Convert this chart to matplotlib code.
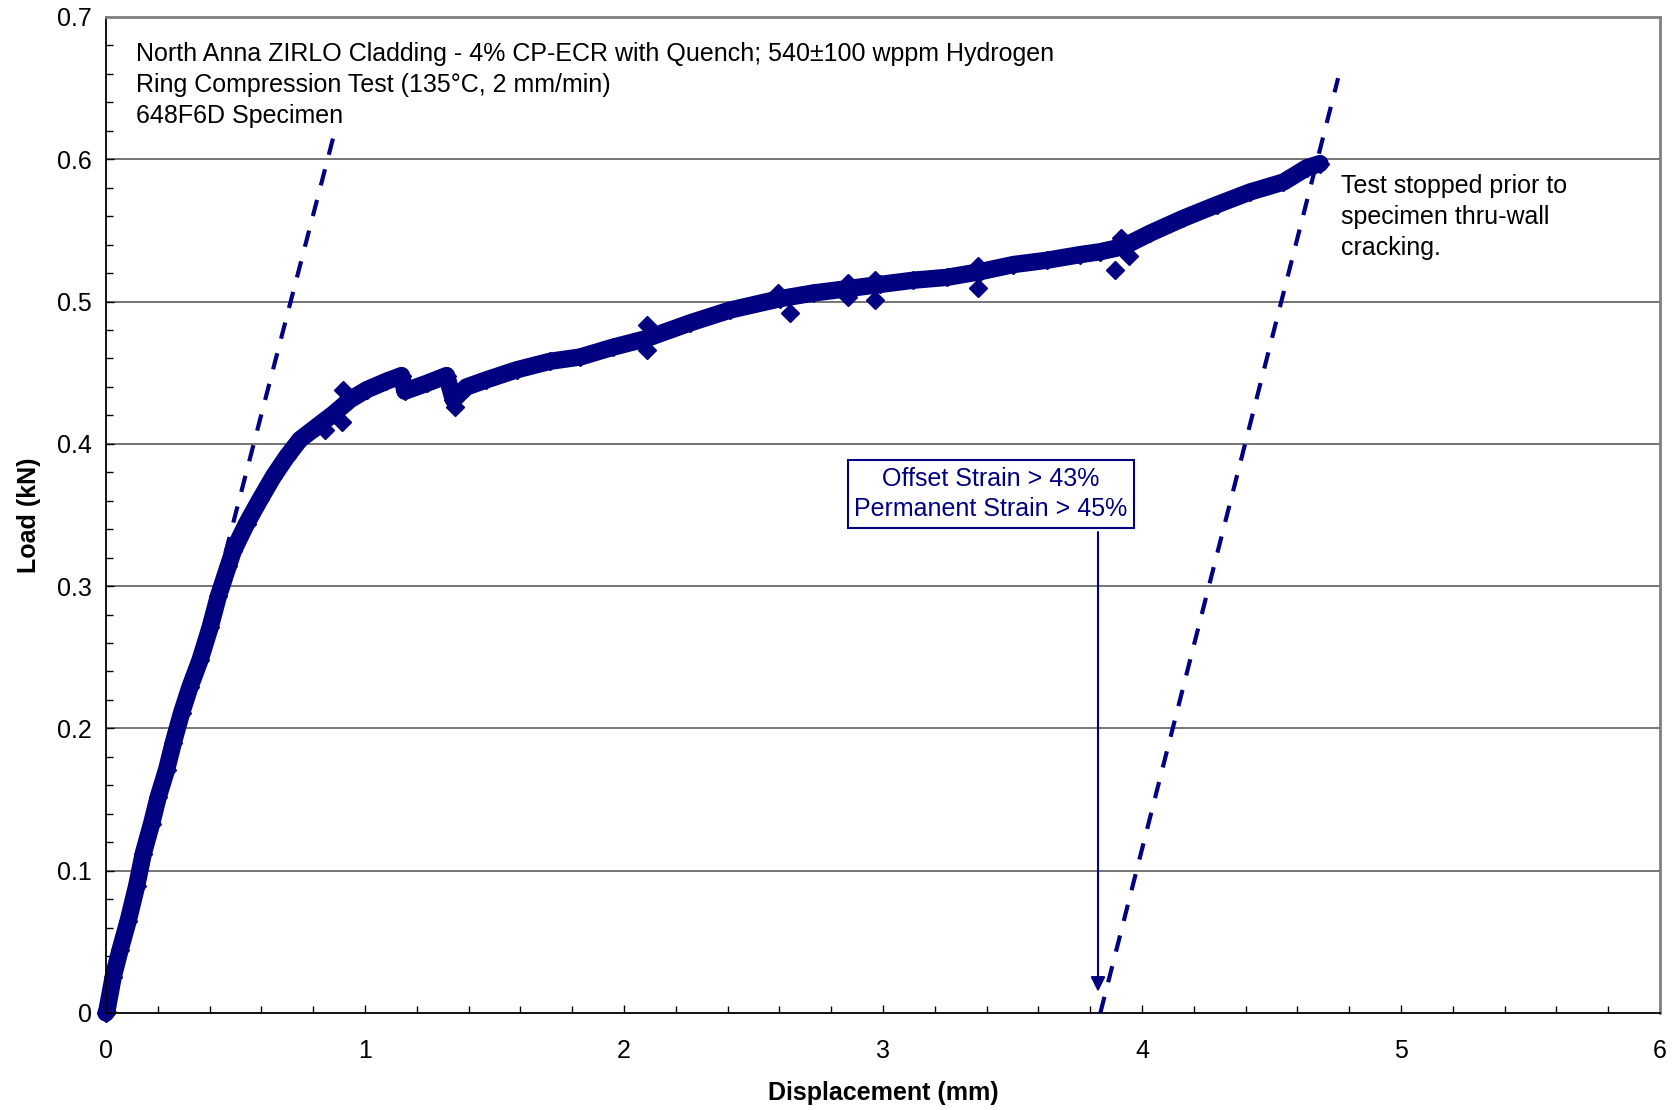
import matplotlib.pyplot as plt
from matplotlib.ticker import MultipleLocator, FuncFormatter

plt.rcParams['font.family'] = ['Liberation Sans', 'DejaVu Sans']

NAVY = '#000080'

# load-displacement record (mm, kN)
disp = [0.0, 0.003, 0.028, 0.054, 0.086, 0.118, 0.144, 0.176, 0.202, 0.234,
        0.260, 0.292, 0.324, 0.363, 0.402, 0.434, 0.472, 0.492, 0.543, 0.595,
        0.646, 0.698, 0.749, 0.813, 0.878, 0.942, 1.006, 1.083, 1.141, 1.154,
        1.238, 1.315, 1.341, 1.392, 1.469, 1.585, 1.714, 1.830, 1.959, 2.087,
        2.255, 2.409, 2.602, 2.731, 2.860, 2.988, 3.117, 3.246, 3.375, 3.503,
        3.632, 3.761, 3.838, 3.928, 4.031, 4.159, 4.288, 4.417, 4.546, 4.636,
        4.687]
load = [0.0, 0.001, 0.0255, 0.044, 0.065, 0.089, 0.112, 0.133, 0.152, 0.171,
        0.190, 0.211, 0.229, 0.248, 0.271, 0.293, 0.314, 0.325, 0.344, 0.361,
        0.377, 0.391, 0.403, 0.412, 0.421, 0.431, 0.438, 0.444, 0.448, 0.437,
        0.4425, 0.448, 0.431, 0.440, 0.445, 0.452, 0.458, 0.461, 0.468, 0.474,
        0.485, 0.494, 0.502, 0.506, 0.509, 0.512, 0.515, 0.517, 0.521, 0.526,
        0.529, 0.533, 0.535, 0.5386, 0.548, 0.5585, 0.568, 0.577, 0.584, 0.594,
        0.597]

# scattered points sitting off the main band
out_disp = [0.845, 0.910, 0.916, 1.347, 2.087, 2.087, 2.596, 2.641, 2.866, 2.866,
            2.969, 2.969, 3.368, 3.368, 3.896, 3.920, 3.950]
out_load = [0.410, 0.4156, 0.438, 0.426, 0.4835, 0.466, 0.506, 0.492, 0.513, 0.5035,
            0.5155, 0.501, 0.5248, 0.5095, 0.522, 0.545, 0.532]

# elastic slope lines
elastic_x = [0.0, 0.877]
elastic_y = [0.0, 0.615]
unload_x = [3.839, 4.757]
unload_y = [0.0, 0.657]

title_lines = ['North Anna ZIRLO Cladding - 4% CP-ECR with Quench; 540\u00b1100 wppm Hydrogen',
               'Ring Compression Test (135\u00b0C, 2 mm/min)',
               '648F6D Specimen']
note_lines = ['Test stopped prior to', 'specimen thru-wall', 'cracking.']
strain_text = 'Offset Strain > 43%\nPermanent Strain > 45%'

fig = plt.figure(figsize=(16.77, 11.10), dpi=100)
ax = fig.add_axes([0.0632, 0.0874, 0.9267, 0.8973])

for yv in [0.1, 0.2, 0.3, 0.4, 0.5, 0.6]:
    ax.axhline(yv, color='#505050', lw=1.1, zorder=0)

ax.plot(elastic_x, elastic_y, color=NAVY, lw=3, dashes=(4, 3.6), zorder=1)
ax.plot(disp, load, color=NAVY, lw=12.5, solid_capstyle='round', solid_joinstyle='round',
        marker='D', ms=9.5, mec=NAVY, mfc=NAVY, zorder=2, clip_on=False)
ax.plot(out_disp, out_load, ls='none', marker='D', ms=9, color=NAVY, zorder=2)
ax.plot(unload_x, unload_y, color=NAVY, lw=3, dashes=(4, 3.6), zorder=3)

ax.set_xlim(0, 6)
ax.set_ylim(0, 0.7)
ax.xaxis.set_major_locator(MultipleLocator(1))
ax.xaxis.set_minor_locator(MultipleLocator(0.2))
ax.yaxis.set_major_locator(MultipleLocator(0.1))
ax.yaxis.set_minor_locator(MultipleLocator(0.02))
fmt = FuncFormatter(lambda v, p: '%g' % round(v, 3))
ax.xaxis.set_major_formatter(fmt)
ax.yaxis.set_major_formatter(fmt)
ax.tick_params(which='both', direction='in', width=1, labelsize=18, color='black')
ax.tick_params(which='major', length=6)
ax.tick_params(which='minor', length=5)
ax.tick_params(axis='x', pad=19)
ax.tick_params(axis='y', pad=10)

for s in ['left', 'bottom']:
    ax.spines[s].set_color('black')
    ax.spines[s].set_linewidth(1.3)
for s in ['top', 'right']:
    ax.spines[s].set_color('#808080')
    ax.spines[s].set_linewidth(2)

ax.set_xlabel('Displacement (mm)', fontsize=18, fontweight='bold', labelpad=13)
ax.set_ylabel('Load (kN)', fontsize=18, fontweight='bold', labelpad=12)

for line, yv in zip(title_lines, [0.674, 0.652, 0.6305]):
    ax.text(0.116, yv, line, fontsize=18, va='center', ha='left')
for line, yv in zip(note_lines, [0.5815, 0.5597, 0.5379]):
    ax.text(4.768, yv, line, fontsize=18, va='center', ha='left')

ax.text(3.417, 0.3647, strain_text, fontsize=18, color=NAVY, ha='center', va='center',
        linespacing=1.35,
        bbox=dict(boxstyle='square,pad=0.25', fc='white', ec=NAVY, lw=1.5))
ax.annotate('', xy=(3.83, 0.015), xytext=(3.83, 0.338),
            arrowprops=dict(arrowstyle='-|>', color=NAVY, lw=1.5, mutation_scale=22,
                            shrinkA=0, shrinkB=0))

fig.savefig('out.png', dpi=100)
